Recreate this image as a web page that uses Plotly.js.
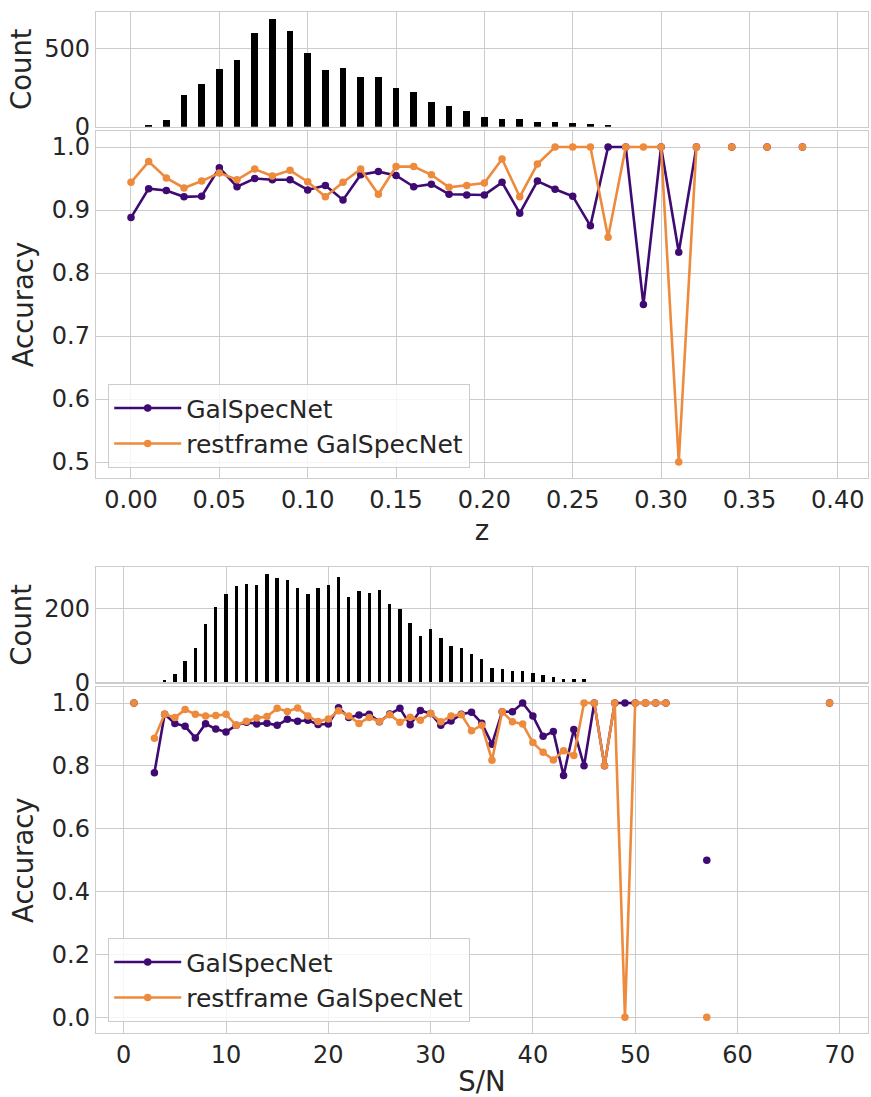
<!DOCTYPE html>
<html>
<head>
<meta charset="utf-8">
<script src="https://cdn.plot.ly/plotly-3.0.1.min.js"></script>
<style>html,body{margin:0;padding:0;background:#fff;}#chart{width:871px;height:1097px;}</style>
</head>
<body>
<div id="chart"></div>
<script>
// ---------- Redshift panel data ----------
const zBins = [0.00,0.01,0.02,0.03,0.04,0.05,0.06,0.07,0.08,0.09,0.10,0.11,0.12,0.13,0.14,0.15,0.16,0.17,0.18,0.19,
               0.20,0.21,0.22,0.23,0.24,0.25,0.26,0.27,0.28,0.29,0.30,0.31,0.32,0.33,0.34,0.35,0.36,0.37,0.38];
const zCount = [0,8,40,200,275,370,424,596,687,609,468,363,374,317,317,250,223,155,130,103,
                61,48,48,32,29,23,19,8,1,1,1,1,1,0,1,0,1,0,1];
const zAccGalSpecNet = [0.888,0.934,0.931,0.921,0.922,0.967,0.937,0.950,0.948,0.948,0.932,0.939,0.916,0.956,0.961,0.955,0.937,0.941,0.925,0.924,
                        0.924,0.944,0.895,0.946,0.933,0.922,0.875,1.0,1.0,0.75,1.0,0.833,1.0,null,1.0,null,1.0,null,1.0];
const zAccRestframe = [0.944,0.977,0.951,0.935,0.946,0.959,0.948,0.965,0.954,0.963,0.945,0.921,0.944,0.965,0.925,0.969,0.969,0.956,0.936,0.939,
                       0.943,0.981,0.921,0.973,1.0,1.0,1.0,0.857,1.0,1.0,1.0,0.5,1.0,null,1.0,null,1.0,null,1.0];
const zTicks = [0.00,0.05,0.10,0.15,0.20,0.25,0.30,0.35,0.40];

// ---------- S/N panel data ----------
const snBins = [1,4,5,6,7,8,9,10,11,12,13,14,15,16,17,18,19,20,21,22,23,24,25,26,27,28,29,30,
                31,32,33,34,35,36,37,38,39,40,41,42,43,44,45,46,47,48,49,50,51,52,53,57,69];
const snCount = [1,5,23,58,93,158,203,239,261,267,263,293,281,276,256,239,256,262,286,231,248,241,250,212,198,160,124,145,
                 119,97,93,76,64,39,35,31,31,25,20,15,8,10,9,1,1,1,1,1,1,1,1,2,1];
const snAccX = [1,2,3,4,5,6,7,8,9,10,11,12,13,14,15,16,17,18,19,20,21,22,23,24,25,26,27,28,29,30,
                31,32,33,34,35,36,37,38,39,40,41,42,43,44,45,46,47,48,49,50,51,52,53,54,57,58,69];
const snAccGalSpecNet = [1.0,null,0.778,0.964,0.935,0.926,0.889,0.934,0.917,0.908,0.929,0.939,0.933,0.936,0.929,0.948,0.942,0.945,0.932,0.933,
                         0.985,0.954,0.962,0.964,0.940,0.965,0.983,0.931,0.976,0.967,0.929,0.943,0.964,0.971,0.936,0.869,0.972,0.972,1.0,0.959,
                         0.894,0.909,0.769,0.916,0.8,1.0,0.8,1.0,1.0,1.0,1.0,1.0,1.0,null,0.5,null,1.0];
const snAccRestframe = [1.0,null,0.888,0.964,0.954,0.979,0.964,0.959,0.960,0.964,0.929,0.942,0.952,0.957,0.983,0.973,0.984,0.959,0.941,0.949,
                        0.975,0.959,0.935,0.954,0.941,0.963,0.939,0.955,0.945,0.967,0.940,0.959,0.963,0.912,0.929,0.818,0.972,0.940,0.933,0.874,
                        0.843,0.819,0.848,0.833,1.0,1.0,0.8,1.0,0.0,1.0,1.0,1.0,1.0,null,0.0,null,1.0];
const snTicks = [0,10,20,30,40,50,60,70];

const seriesNames = ['GalSpecNet','restframe GalSpecNet'];
const seriesColors = ['#3f0a72','#ee8a3c'];

// ---------- styling ----------
const W = 871, H = 1097;
const GRID = '#cccccc', TXT = '#262626';
const FONT = 'DejaVu Sans, sans-serif';
const TICKF = {family: FONT, size: 24, color: TXT};
const TITLEF = {family: FONT, size: 27.5, color: TXT};
const px2y = (a, b) => [1 - b / H, 1 - a / H];
const xDom = [96 / W, 868 / W];

function baseAxis(extra) {
  return Object.assign({
    showgrid: true, gridcolor: GRID, gridwidth: 1,
    showline: true, linecolor: GRID, linewidth: 1.2, mirror: true,
    zeroline: false, ticks: '', tickfont: TICKF, fixedrange: true
  }, extra);
}

function lineTrace(x, y, i, xa, ya, leg, showleg) {
  return {
    type: 'scatter', mode: 'lines+markers', x: x, y: y, name: seriesNames[i],
    xaxis: xa, yaxis: ya, legend: leg, showlegend: showleg,
    line: {color: seriesColors[i], width: 2.6},
    marker: {color: seriesColors[i], size: 7.5},
    connectgaps: false, cliponaxis: false
  };
}

const traces = [
  {type: 'bar', x: zBins, y: zCount, width: 0.0038, marker: {color: '#000000', line: {width: 0}},
   xaxis: 'x', yaxis: 'y', showlegend: false},
  lineTrace(zBins, zAccGalSpecNet, 0, 'x2', 'y2', 'legend', true),
  lineTrace(zBins, zAccRestframe, 1, 'x2', 'y2', 'legend', true),
  {type: 'bar', x: snBins, y: snCount, width: 0.33, marker: {color: '#000000', line: {width: 0}},
   xaxis: 'x3', yaxis: 'y3', showlegend: false},
  lineTrace(snAccX, snAccGalSpecNet, 0, 'x4', 'y4', 'legend2', true),
  lineTrace(snAccX, snAccRestframe, 1, 'x4', 'y4', 'legend2', true)
];

const legendStyle = {
  xanchor: 'left', yanchor: 'top', bgcolor: 'rgba(255,255,255,0.8)',
  bordercolor: GRID, borderwidth: 1.2, font: {family: FONT, size: 25, color: TXT},
  itemwidth: 67, itemclick: false, itemdoubleclick: false, tracegroupgap: 0
};

const layout = {
  width: W, height: H,
  margin: {l: 0, r: 0, t: 0, b: 0},
  paper_bgcolor: '#ffffff', plot_bgcolor: '#ffffff',
  showlegend: true,
  bargap: 0,
  xaxis: baseAxis({domain: xDom, range: [-0.0198, 0.4171], tickvals: zTicks, showticklabels: false, anchor: 'y'}),
  yaxis: baseAxis({domain: px2y(11.7, 126.7), range: [0, 735], tickvals: [0, 500], anchor: 'x',
                   title: {text: 'Count', font: TITLEF, standoff: 4}}),
  xaxis2: baseAxis({domain: xDom, range: [-0.0198, 0.4171], tickvals: zTicks, tickformat: '.2f', anchor: 'y2',
                    title: {text: 'z', font: TITLEF, standoff: 6}}),
  yaxis2: baseAxis({domain: px2y(131.3, 477.8), range: [0.475, 1.025], tickvals: [0.5, 0.6, 0.7, 0.8, 0.9, 1.0],
                    tickformat: '.1f', anchor: 'x2', title: {text: 'Accuracy', font: TITLEF, standoff: 10}}),
  xaxis3: baseAxis({domain: xDom, range: [-2.71, 72.76], tickvals: snTicks, showticklabels: false, anchor: 'y3'}),
  yaxis3: baseAxis({domain: px2y(567.3, 682.3), range: [0, 311], tickvals: [0, 200], anchor: 'x3',
                    title: {text: 'Count', font: TITLEF, standoff: 4}}),
  xaxis4: baseAxis({domain: xDom, range: [-2.71, 72.76], tickvals: snTicks, anchor: 'y4',
                    title: {text: 'S/N', font: TITLEF, standoff: 6}}),
  yaxis4: baseAxis({domain: px2y(687.3, 1033), range: [-0.05, 1.05], tickvals: [0, 0.2, 0.4, 0.6, 0.8, 1.0],
                    tickformat: '.1f', anchor: 'x4', title: {text: 'Accuracy', font: TITLEF, standoff: 10}}),
  legend: Object.assign({x: 108 / W, y: 1 - 384 / H}, legendStyle),
  legend2: Object.assign({x: 108 / W, y: 1 - 938 / H}, legendStyle)
};

Plotly.newPlot('chart', traces, layout, {staticPlot: true, displayModeBar: false});
</script>
</body>
</html>
